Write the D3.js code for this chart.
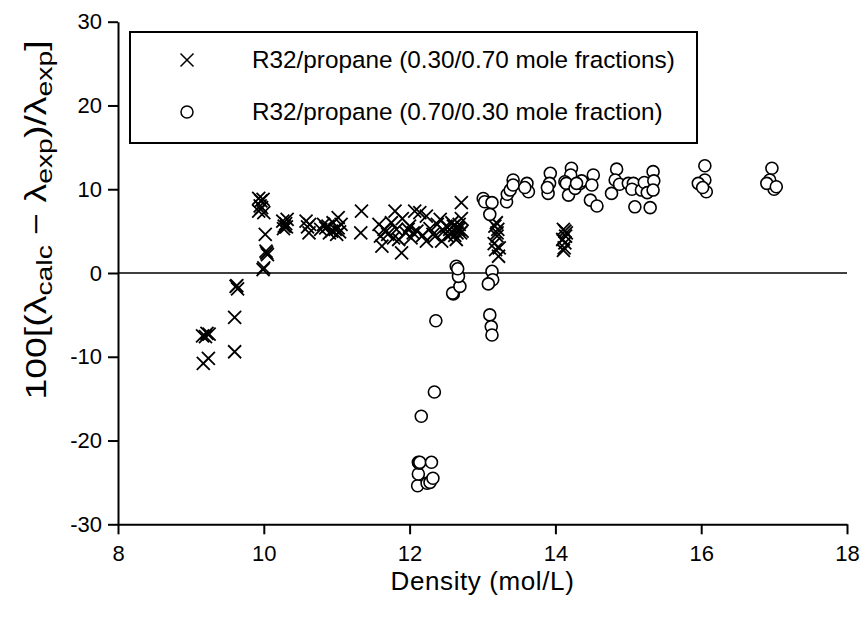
<!DOCTYPE html>
<html>
<head>
<meta charset="utf-8">
<script src="https://cdn.jsdelivr.net/npm/d3@7"></script>
<style>
  body { margin: 0; background: #fff; }
  svg { font-family: 'Liberation Sans', Arial, sans-serif; }
</style>
</head>
<body>
<div id="chart"></div>
<script>
// R32/propane 0.30/0.70 (crosses)
const crossDensity = [
  9.17, 9.24, 9.16, 9.22, 9.25, 9.20,
  9.60, 9.60, 9.63, 9.64, 9.62,
  9.93, 9.96, 9.99, 9.93, 9.97, 10.00, 9.95,
  10.02, 10.03, 10.05, 10.04, 9.99, 10.00,
  10.26, 10.28, 10.30, 10.32, 10.27, 10.31,
  10.58, 10.60, 10.62, 10.63,
  10.78, 10.82, 10.85, 10.88, 10.93, 10.95, 10.98, 11.02, 11.02, 11.04, 11.06, 11.00, 10.90,
  11.34, 11.33,
  11.58, 11.62, 11.60, 11.65, 11.70, 11.75, 11.80, 11.82, 11.85, 11.89, 11.90, 11.95, 12.00, 12.02,
  12.07, 12.10, 12.14, 12.18, 12.23, 12.23, 12.28, 12.32, 12.38, 12.42, 12.44, 12.47, 12.52, 12.55,
  12.58, 12.62, 12.64, 12.66, 12.68, 12.70, 12.71, 12.71, 12.72, 12.65, 12.60,
  11.68, 11.78, 11.98, 12.05, 12.35, 12.50, 12.56, 12.67,
  13.17, 13.20, 13.22, 13.18, 13.21, 13.16, 13.19, 13.23, 13.20,
  14.11, 14.13, 14.11, 14.14, 14.12, 14.15, 14.10, 14.13
];
const crossDev = [
  -10.8, -10.2, -7.5, -7.2, -7.3, -7.6,
  -9.4, -5.3, -1.5, -1.9, -1.6,
  8.9, 8.6, 8.8, 7.4, 7.8, 7.2, 8.0,
  4.6, 2.6, 2.2, 2.4, 0.4, 0.6,
  6.2, 5.6, 5.9, 6.4, 5.3, 5.5,
  6.2, 5.5, 4.8, 5.8,
  5.2, 5.8, 5.4, 5.6, 5.0, 6.0, 5.2, 6.6, 5.4, 4.9, 5.8, 4.6, 4.8,
  7.4, 4.8,
  5.8, 3.2, 4.4, 5.2, 4.6, 6.0, 7.4, 5.2, 4.0, 2.4, 6.5, 4.8, 5.6, 4.2,
  7.4, 5.0, 7.2, 4.5, 6.8, 3.8, 5.3, 4.6, 5.8, 6.4, 3.8, 5.0, 4.4, 5.2,
  6.0, 4.5, 4.0, 5.4, 5.8, 4.8, 8.4, 6.5, 5.0, 4.8, 5.6,
  5.0, 4.2, 5.2, 4.8, 4.4, 5.6, 4.6, 5.2,
  5.6, 4.4, 2.0, 2.8, 5.2, 3.5, 6.0, 3.0, 4.8,
  5.2, 3.6, 2.7, 4.4, 3.0, 4.8, 4.0, 5.0
];

// R32/propane 0.70/0.30 (circles)
const circleDensity = [
  12.11, 12.12, 12.12, 12.13, 12.14, 12.24, 12.28, 12.32, 12.30, 12.16, 12.34, 12.36,
  12.60, 12.59, 12.69, 12.67, 12.64, 12.66,
  13.01, 13.03, 13.13, 13.10, 13.13, 13.14, 13.08, 13.10, 13.12, 13.13,
  13.33, 13.34, 13.38, 13.42, 13.42, 13.61, 13.63, 13.58,
  13.93, 13.92, 13.90, 13.89,
  14.22, 14.21, 14.13, 14.15, 14.18, 14.27, 14.34, 14.36, 14.29,
  14.52, 14.50, 14.48, 14.57,
  14.84, 14.82, 14.77, 14.88, 15.00, 15.07, 15.05, 15.09, 15.18, 15.22, 15.26, 15.34, 15.35, 15.34, 15.30,
  16.05, 16.05, 16.07, 15.96, 16.02,
  16.97, 16.94, 17.00, 16.90, 17.03
];
const circleDev = [
  -25.4, -24.0, -22.6, -22.7, -22.6, -25.1, -25.0, -24.5, -22.6, -17.1, -14.2, -5.7,
  -2.5, -2.4, -1.6, -0.4, 0.8, 0.5,
  8.9, 8.5, 8.4, 7.0, 0.2, -0.8, -1.3, -5.0, -6.4, -7.4,
  8.5, 9.4, 9.9, 11.1, 10.5, 10.7, 9.7, 10.2,
  11.9, 10.7, 9.5, 10.2,
  12.5, 11.7, 10.9, 10.7, 9.3, 10.1, 10.7, 11.0, 10.7,
  11.7, 10.5, 8.7, 8.0,
  12.4, 11.1, 9.5, 10.6, 10.7, 10.7, 10.0, 7.9, 9.9, 10.8, 9.6, 12.1, 11.0, 9.9, 7.8,
  12.8, 11.1, 9.7, 10.7, 10.2,
  12.5, 11.1, 10.0, 10.7, 10.3
];

const xTicks = [8, 10, 12, 14, 16, 18];
const yTicks = [-30, -20, -10, 0, 10, 20, 30];
const legendLabels = [
  'R32/propane (0.30/0.70 mole fractions)',
  'R32/propane (0.70/0.30 mole fraction)'
];

const width = 863;
const height = 620;
const margin = { top: 21.7, right: 16, bottom: 95.7, left: 118 };

const svg = d3.select('#chart').append('svg')
  .attr('width', width)
  .attr('height', height);

/* ----------scales------------*/
const xScale = d3.scaleLinear().domain([8, 18]).range([margin.left, width - margin.right]);
const yScale = d3.scaleLinear().domain([-30, 30]).range([height - margin.bottom, margin.top]);

/* ----------axes------------*/
svg.append('g')
  .attr('class', 'axis axis--x')
  .attr('transform', 'translate(0,' + yScale(-30) + ')')
  .call(d3.axisBottom(xScale).tickValues(xTicks).tickSize(10).tickSizeOuter(0).tickPadding(11).tickFormat(d => String(d)));

svg.append('g')
  .attr('class', 'axis axis--y')
  .attr('transform', 'translate(' + xScale(8) + ',0)')
  .call(d3.axisLeft(yScale).tickValues(yTicks).tickSize(10).tickSizeOuter(0).tickPadding(6).tickFormat(d => String(d)));

svg.selectAll('.axis path').attr('stroke', '#000').attr('stroke-width', 2);
svg.selectAll('.axis line').attr('stroke', '#000').attr('stroke-width', 2);
svg.selectAll('.axis text')
  .attr('fill', '#000')
  .style('font-size', '22px')
  .style('font-family', "'Liberation Sans', Arial, sans-serif");

// zero line
svg.append('line')
  .attr('x1', xScale(8)).attr('x2', xScale(18))
  .attr('y1', yScale(0)).attr('y2', yScale(0))
  .attr('stroke', '#000')
  .attr('stroke-width', 1.6);

/* ----------axis titles------------*/
svg.append('text')
  .attr('x', xScale(13))
  .attr('y', 590)
  .attr('text-anchor', 'middle')
  .style('font-size', '26px')
  .style('letter-spacing', '0.6px')
  .text('Density (mol/L)');

const yTitle = svg.append('text')
  .attr('transform', 'translate(46,220) rotate(-90) scale(1.29,1)')
  .attr('text-anchor', 'middle')
  .style('font-size', '29px');
yTitle.append('tspan').text('100[(λ');
yTitle.append('tspan').attr('dy', 6).style('font-size', '22px').text('calc');
yTitle.append('tspan').attr('dy', -6).text(' − λ');
yTitle.append('tspan').attr('dy', 6).style('font-size', '22px').text('exp');
yTitle.append('tspan').attr('dy', -6).text(')/λ');
yTitle.append('tspan').attr('dy', 6).style('font-size', '22px').text('exp');
yTitle.append('tspan').attr('dy', -6).text(']');

/* ----------markers------------*/
const crossSize = 6.5;
function crossPath(cx, cy) {
  return 'M' + (cx - crossSize) + ',' + (cy - crossSize) + 'L' + (cx + crossSize) + ',' + (cy + crossSize) +
    'M' + (cx - crossSize) + ',' + (cy + crossSize) + 'L' + (cx + crossSize) + ',' + (cy - crossSize);
}

const crossData = crossDensity.map((d, i) => ({ x: d, y: crossDev[i] }));
const circleData = circleDensity.map((d, i) => ({ x: d, y: circleDev[i] }));

svg.append('g').attr('class', 'crosses')
  .selectAll('path')
  .data(crossData)
  .enter()
  .append('path')
  .attr('d', d => crossPath(xScale(d.x), yScale(d.y)))
  .attr('stroke', '#000')
  .attr('stroke-width', 1.8)
  .attr('fill', 'none');

svg.append('g').attr('class', 'circles')
  .selectAll('circle')
  .data(circleData)
  .enter()
  .append('circle')
  .attr('cx', d => xScale(d.x))
  .attr('cy', d => yScale(d.y))
  .attr('r', 6)
  .attr('fill', '#fff')
  .attr('stroke', '#000')
  .attr('stroke-width', 1.6);

/* ----------legend------------*/
const legend = svg.append('g').attr('class', 'legend');
legend.append('rect')
  .attr('x', 130).attr('y', 32)
  .attr('width', 567).attr('height', 111)
  .attr('fill', '#fff')
  .attr('stroke', '#000')
  .attr('stroke-width', 2);

const rowY = [60, 112];
legend.append('path')
  .attr('d', crossPath(187, rowY[0]))
  .attr('stroke', '#000')
  .attr('stroke-width', 1.5);
legend.append('circle')
  .attr('cx', 187).attr('cy', rowY[1]).attr('r', 6)
  .attr('fill', '#fff')
  .attr('stroke', '#000')
  .attr('stroke-width', 1.5);

legend.selectAll('.legend-text')
  .data(legendLabels)
  .enter()
  .append('text')
  .attr('class', 'legend-text')
  .attr('x', 252)
  .attr('y', (d, i) => rowY[i] + 8)
  .style('font-size', '24.3px')
  .text(d => d);
</script>
</body>
</html>
